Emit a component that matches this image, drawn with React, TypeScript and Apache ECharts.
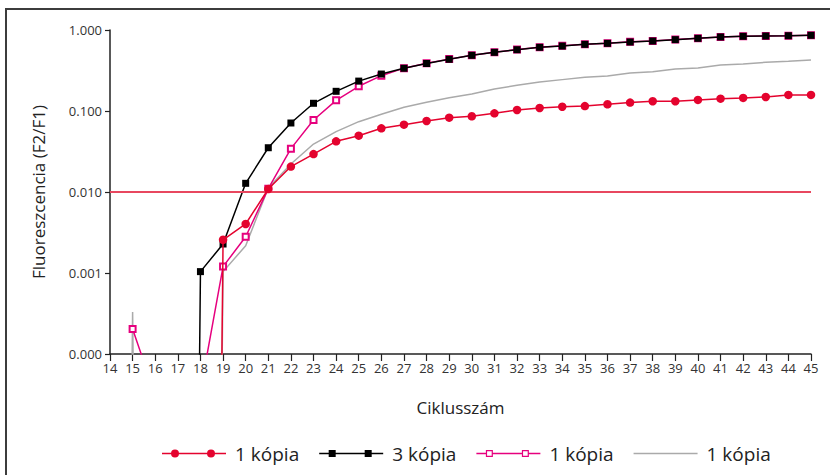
import React, { useEffect, useRef } from "react";
import * as echarts from "echarts";

// Cycle numbers (x axis)
const cycles = [14, 15, 16, 17, 18, 19, 20, 21, 22, 23, 24, 25, 26, 27, 28, 29, 30, 31, 32, 33, 34, 35, 36, 37, 38, 39, 40, 41, 42, 43, 44, 45];

// value used for "no signal" (≤ 0) readings; falls far below the log axis floor
const NO_SIGNAL = 1e-30;

// Series 1: red circles, "1 kópia"
const redCopy1 = [null, null, null, null, NO_SIGNAL, 0.00257, 0.00403, 0.0109, 0.0206, 0.0294, 0.0422, 0.0496, 0.0611, 0.0678, 0.0753, 0.0827, 0.086, 0.0936, 0.103, 0.109, 0.113, 0.115, 0.121, 0.127, 0.132, 0.132, 0.137, 0.142, 0.145, 0.149, 0.158, 0.158];
// Series 2: black squares, "3 kópia"
const blackCopy3 = [null, null, null, NO_SIGNAL, 0.00104, 0.00228, 0.0128, 0.0352, 0.0711, 0.1245, 0.175, 0.234, 0.286, 0.337, 0.386, 0.435, 0.487, 0.53, 0.571, 0.611, 0.634, 0.665, 0.684, 0.711, 0.731, 0.76, 0.789, 0.82, 0.836, 0.843, 0.85, 0.86];
// Series 3: magenta hollow squares, "1 kópia"
const pinkCopy1 = [null, 0.000204, 0.000031, 0.00001, 0.000035, 0.0012, 0.0028, 0.011, 0.0343, 0.0774, 0.1355, 0.202, 0.273, 0.338, 0.388, 0.437, 0.489, 0.533, 0.573, 0.613, 0.637, 0.668, 0.687, 0.716, 0.733, 0.762, 0.79, 0.821, 0.838, 0.846, 0.852, 0.861];
// Series 4: grey line, "1 kópia"
const greyCopy1 = [NO_SIGNAL, 0.00033, NO_SIGNAL, NO_SIGNAL, NO_SIGNAL, 0.00104, 0.00217, 0.0112, 0.0222, 0.0391, 0.0556, 0.0738, 0.091, 0.111, 0.128, 0.146, 0.162, 0.187, 0.208, 0.228, 0.244, 0.261, 0.27, 0.294, 0.306, 0.33, 0.34, 0.37, 0.38, 0.399, 0.41, 0.426];

// Threshold level
const THRESHOLD = 0.0107;

// Legend names (suffix after # is stripped in display)
const seriesNames = ["1 kópia", "3 kópia", "1 kópia#2", "1 kópia#3"];

const FONT = "'Open Sans', 'Noto Sans', sans-serif";

const RED = "#e4032e";
const BLACK = "#000000";
const PINK = "#e6007e";
const GREY = "#aaaaaa";

const pair = (vals: (number | null)[]) => cycles.map((c, i) => [c, vals[i]]);

const iconCircles =
  "path://M0,5.2L64,5.2L64,6.8L0,6.8Z M9,6A4,4 0 1,1 17,6A4,4 0 1,1 9,6Z M45,6A4,4 0 1,1 53,6A4,4 0 1,1 45,6Z";
const iconSquares =
  "path://M0,5.2L64,5.2L64,6.8L0,6.8Z M9.5,2.5L16.5,2.5L16.5,9.5L9.5,9.5Z M45.5,2.5L52.5,2.5L52.5,9.5L45.5,9.5Z";
const iconHollow =
  "path://M0,5.2L9.5,5.2L9.5,6.8L0,6.8Z M16.5,5.2L45.5,5.2L45.5,6.8L16.5,6.8Z M52.5,5.2L64,5.2L64,6.8L52.5,6.8Z M9.5,2.5L16.5,2.5L16.5,9.5L9.5,9.5Z M10.7,3.7L10.7,8.3L15.3,8.3L15.3,3.7Z M45.5,2.5L52.5,2.5L52.5,9.5L45.5,9.5Z M46.7,3.7L46.7,8.3L51.3,8.3L51.3,3.7Z";
const iconLine = "path://M0,5.3L64,5.3L64,6.7L0,6.7Z";

export default function App() {
  const ref = useRef<HTMLDivElement>(null);

  useEffect(() => {
    if (!ref.current) return;
    const chart = echarts.init(ref.current, null, { renderer: "svg" });
    const option: any = {
      animation: false,
      backgroundColor: "#ffffff",
      graphic: [
        {
          type: "rect",
          silent: true,
          shape: { x: 6, y: 9, width: 1000, height: 1000 },
          style: { fill: "none", stroke: "#3c3c3c", lineWidth: 2 },
          z: 100,
        },
      ],
      grid: { left: 110, right: 19, top: 30, bottom: 121, containLabel: false },
      legend: {
        left: 157,
        top: 439,
        itemWidth: 64,
        itemHeight: 14,
        itemGap: 20,
        formatter: (name: string) => name.split("#")[0],
        textStyle: { fontSize: 19, color: "#222", fontFamily: FONT, padding: [0, 0, 0, 4] },
        data: [
          { name: seriesNames[0], icon: iconCircles, itemStyle: { color: RED, borderWidth: 0 } },
          { name: seriesNames[1], icon: iconSquares, itemStyle: { color: BLACK, borderWidth: 0 } },
          { name: seriesNames[2], icon: iconHollow, itemStyle: { color: PINK, borderWidth: 0 } },
          { name: seriesNames[3], icon: iconLine, itemStyle: { color: GREY, borderWidth: 0 } },
        ],
      },
      xAxis: {
        type: "value",
        min: 14,
        max: 45,
        interval: 1,
        name: "Ciklusszám",
        nameLocation: "middle",
        nameGap: 45,
        nameTextStyle: { fontSize: 17, color: "#222", fontFamily: FONT },
        axisLine: { lineStyle: { color: "#222", width: 1.5 } },
        axisTick: { length: 7, lineStyle: { color: "#222", width: 1.2 } },
        axisLabel: { fontSize: 13, color: "#333", fontFamily: FONT, margin: 7 },
        splitLine: { show: false },
      },
      yAxis: {
        type: "log",
        logBase: 10,
        min: 0.0001,
        max: 1,
        name: "Fluoreszcencia (F2/F1)",
        nameLocation: "middle",
        nameGap: 63,
        nameTextStyle: { fontSize: 17, color: "#222", fontFamily: FONT },
        axisLine: { show: true, lineStyle: { color: "#222", width: 1.5 } },
        axisTick: { show: true, length: 5, lineStyle: { color: "#222", width: 1.2 } },
        axisLabel: {
          fontSize: 13,
          color: "#333",
          fontFamily: FONT,
          margin: 8,
          formatter: (v: number) => v.toFixed(3),
        },
        splitLine: { show: false },
      },
      series: [
        {
          name: seriesNames[0],
          type: "line",
          z: 5,
          data: pair(redCopy1),
          symbol: "circle",
          symbolSize: 8.5,
          clip: true,
          itemStyle: { color: RED },
          lineStyle: { color: RED, width: 1.5 },
          markLine: {
            silent: true,
            symbol: "none",
            label: { show: false },
            lineStyle: { color: "#e8475f", width: 2, type: "solid" },
            data: [{ yAxis: THRESHOLD }],
          },
        },
        {
          name: seriesNames[1],
          type: "line",
          z: 4,
          data: pair(blackCopy3),
          symbol: "rect",
          symbolSize: 7,
          clip: true,
          itemStyle: { color: BLACK },
          lineStyle: { color: BLACK, width: 1.5 },
        },
        {
          name: seriesNames[2],
          type: "line",
          z: 3,
          data: pair(pinkCopy1),
          symbol: "emptyRect",
          symbolSize: 6,
          clip: true,
          itemStyle: { color: PINK, borderWidth: 1.2 },
          lineStyle: { color: PINK, width: 1.5 },
        },
        {
          name: seriesNames[3],
          type: "line",
          z: 2,
          data: pair(greyCopy1),
          symbol: "none",
          clip: true,
          itemStyle: { color: GREY },
          lineStyle: { color: GREY, width: 1.5 },
        },
      ],
    };
    chart.setOption(option);
    return () => chart.dispose();
  }, []);

  return (
    <div
      ref={ref}
      style={{ position: "absolute", left: 0, top: 0, width: 830, height: 475 }}
    />
  );
}
